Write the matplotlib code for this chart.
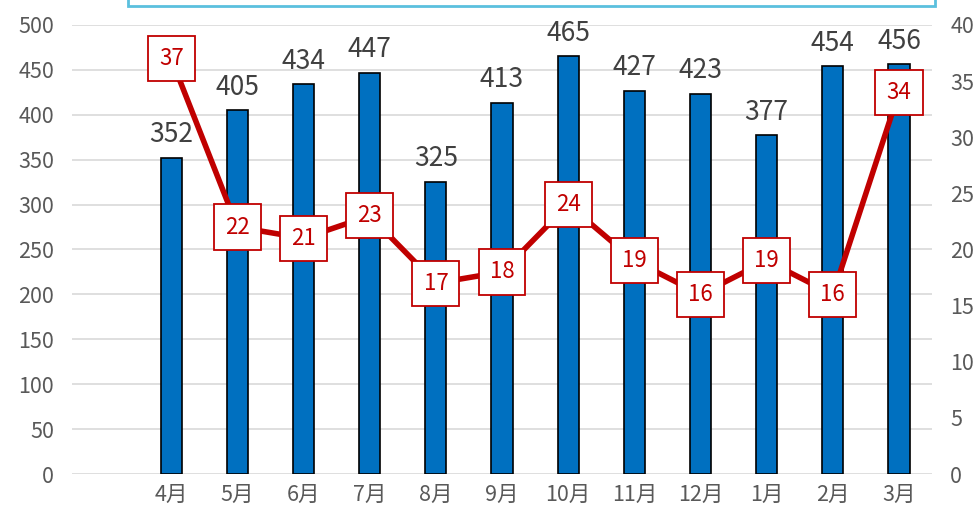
import numpy as np
import matplotlib.pyplot as plt
from matplotlib.patches import Rectangle

plt.rcParams['font.family'] = ['Noto Sans CJK JP', 'DejaVu Sans']

months = ['', '4月', '5月', '6月', '7月', '8月', '9月', '10月', '11月', '12月', '1月', '2月', '3月']
bar_vals = [352, 405, 434, 447, 325, 413, 465, 427, 423, 377, 454, 456]
line_vals = [37, 22, 21, 23, 17, 18, 24, 19, 16, 19, 16, 34]

x = np.arange(len(months))
xv = x[1:]

fig = plt.figure(figsize=(9.76, 5.15), dpi=100)
ax = fig.add_axes([0.0738, 0.0796, 0.8812, 0.8719])
ax2 = ax.twinx()

# bars
ax.bar(xv, bar_vals, width=0.32, color='#0070C0', edgecolor='black', linewidth=1.2, zorder=3)
for xi, v in zip(xv, bar_vals):
    ax.annotate(str(v), (xi, v), xytext=(0, 7), textcoords='offset points',
                ha='center', va='bottom', fontsize=19, color='#404040')

ax.set_xlim(-0.5, 12.5)
ax.set_ylim(0, 500)
ax.set_yticks(np.arange(0, 501, 50))
ax.set_xticks(x)
ax.set_xticklabels(months)
ax.grid(axis='y', color='#D9D9D9', linewidth=1.2, zorder=0)
ax.set_axisbelow(True)
for s in ax.spines.values():
    s.set_visible(False)
ax.tick_params(axis='both', length=0, labelsize=15.5, colors='#595959')
ax.tick_params(axis='y', pad=13)
ax.tick_params(axis='x', pad=7)

# line
ax2.plot(xv, line_vals, color='#C00000', linewidth=4, zorder=3)
for xi, v in zip(xv, line_vals):
    ax2.text(xi, v, str(v), ha='center', va='center', fontsize=16, color='#C00000', zorder=4,
             bbox=dict(boxstyle='square,pad=0.5', facecolor='white', edgecolor='#C00000', linewidth=1.3))
ax2.set_ylim(0, 40)
ax2.set_yticks(np.arange(0, 41, 5))
for s in ax2.spines.values():
    s.set_visible(False)
ax2.tick_params(axis='y', length=0, labelsize=15.5, colors='#595959', pad=13)

# title box edge peeking in at the top
fig.patches.append(Rectangle((128 / 976, 1 - 6 / 515), (935 - 128) / 976, 0.05,
                             transform=fig.transFigure, facecolor='white',
                             edgecolor='#5BC0DE', linewidth=2, clip_on=False))

fig.savefig('out.png', dpi=100)
